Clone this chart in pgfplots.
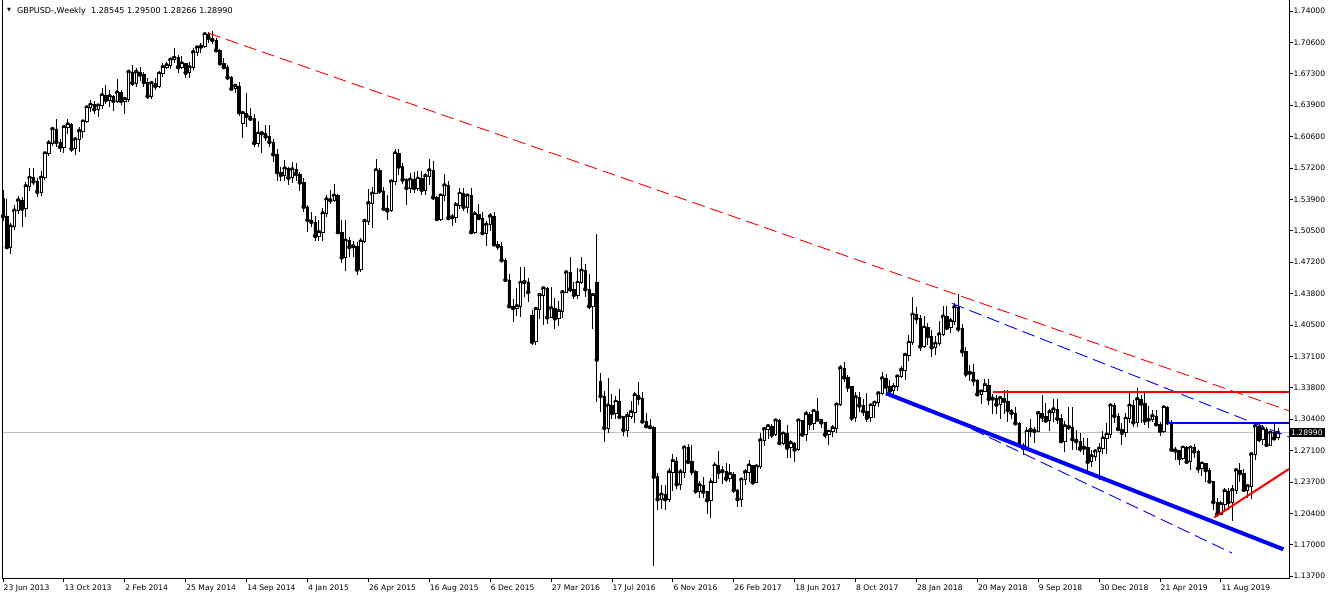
\documentclass[border=0pt]{standalone}
\usepackage{fontspec}
\setmainfont{DejaVu Sans}
\usepackage{pgfplots}
\usepackage{pgfplotstable}
\pgfplotsset{compat=1.18}

% weekly GBPUSD candles, week index from 23 Jun 2013
\pgfplotstableread{
i o h l c
0 1.5400 1.5490 1.5160 1.5210
1 1.5210 1.5390 1.4860 1.4880
2 1.4880 1.5140 1.4810 1.5100
3 1.5100 1.5330 1.5060 1.5270
4 1.5270 1.5430 1.5230 1.5380
5 1.5380 1.5410 1.5090 1.5290
6 1.5290 1.5570 1.5200 1.5530
7 1.5530 1.5720 1.5480 1.5620
8 1.5620 1.5720 1.5540 1.5580
9 1.5580 1.5620 1.5420 1.5470
10 1.5470 1.5690 1.5430 1.5620
11 1.5620 1.5900 1.5600 1.5880
12 1.5880 1.6020 1.5850 1.5990
13 1.5990 1.6160 1.5960 1.6140
14 1.6140 1.6250 1.5950 1.6000
15 1.6000 1.6030 1.5900 1.5950
16 1.5950 1.6180 1.5880 1.6160
17 1.6160 1.6250 1.6090 1.6190
18 1.6190 1.6210 1.5890 1.5930
19 1.5930 1.6060 1.5860 1.6030
20 1.6030 1.6160 1.5900 1.6120
21 1.6120 1.6230 1.6050 1.6220
22 1.6220 1.6390 1.6200 1.6370
23 1.6370 1.6450 1.6320 1.6400
24 1.6400 1.6440 1.6300 1.6350
25 1.6350 1.6410 1.6270 1.6390
26 1.6390 1.6580 1.6350 1.6500
27 1.6500 1.6610 1.6410 1.6450
28 1.6450 1.6560 1.6380 1.6490
29 1.6490 1.6500 1.6330 1.6440
30 1.6440 1.6670 1.6420 1.6530
31 1.6530 1.6560 1.6400 1.6440
32 1.6440 1.6480 1.6300 1.6460
33 1.6460 1.6770 1.6430 1.6750
34 1.6750 1.6820 1.6600 1.6630
35 1.6630 1.6790 1.6590 1.6750
36 1.6750 1.6800 1.6650 1.6720
37 1.6720 1.6750 1.6590 1.6640
38 1.6640 1.6680 1.6460 1.6490
39 1.6490 1.6650 1.6460 1.6630
40 1.6630 1.6680 1.6560 1.6600
41 1.6600 1.6760 1.6580 1.6730
42 1.6730 1.6840 1.6700 1.6800
43 1.6800 1.6860 1.6780 1.6820
44 1.6820 1.6900 1.6780 1.6880
45 1.6880 1.7000 1.6850 1.6900
46 1.6900 1.6930 1.6740 1.6800
47 1.6800 1.6920 1.6780 1.6840
48 1.6840 1.6850 1.6690 1.6740
49 1.6740 1.6860 1.6690 1.6800
50 1.6800 1.7000 1.6770 1.6960
51 1.6960 1.7030 1.6920 1.7010
52 1.7010 1.7060 1.6950 1.7020
53 1.7020 1.7180 1.7000 1.7150
54 1.7150 1.7180 1.7060 1.7110
55 1.7110 1.7190 1.7050 1.7090
56 1.7090 1.7110 1.6960 1.6980
57 1.6980 1.6990 1.6820 1.6840
58 1.6840 1.6900 1.6780 1.6800
59 1.6800 1.6820 1.6660 1.6690
60 1.6690 1.6710 1.6560 1.6570
61 1.6570 1.6620 1.6530 1.6600
62 1.6600 1.6640 1.6280 1.6320
63 1.6200 1.6330 1.6050 1.6310
64 1.6310 1.6530 1.6160 1.6280
65 1.6280 1.6370 1.6230 1.6250
66 1.6250 1.6300 1.5950 1.5990
67 1.5990 1.6230 1.5950 1.6090
68 1.6090 1.6110 1.5880 1.6095
69 1.6095 1.6180 1.6010 1.6060
70 1.6060 1.6180 1.5950 1.6000
71 1.6000 1.6030 1.5790 1.5870
72 1.5870 1.5930 1.5590 1.5680
73 1.5680 1.5740 1.5590 1.5650
74 1.5650 1.5810 1.5590 1.5720
75 1.5720 1.5740 1.5540 1.5620
76 1.5620 1.5790 1.5560 1.5710
77 1.5710 1.5780 1.5590 1.5660
78 1.5660 1.5680 1.5480 1.5570
79 1.5570 1.5620 1.5250 1.5310
80 1.5310 1.5330 1.5040 1.5170
81 1.5170 1.5250 1.5090 1.5150
82 1.5150 1.5210 1.4950 1.5000
83 1.5000 1.5170 1.4950 1.5040
84 1.5040 1.5300 1.4950 1.5240
85 1.5240 1.5440 1.5200 1.5390
86 1.5390 1.5490 1.5340 1.5380
87 1.5380 1.5550 1.5360 1.5430
88 1.5430 1.5450 1.5020 1.5040
89 1.5040 1.5170 1.4710 1.4770
90 1.4770 1.5170 1.4630 1.4950
91 1.4950 1.4990 1.4780 1.4880
92 1.4880 1.4950 1.4770 1.4890
93 1.4890 1.4930 1.4580 1.4640
94 1.4640 1.4980 1.4620 1.4940
95 1.4940 1.5180 1.4920 1.5160
96 1.5160 1.5500 1.5120 1.5350
97 1.5350 1.5520 1.5080 1.5450
98 1.5450 1.5820 1.5450 1.5700
99 1.5700 1.5720 1.5450 1.5480
100 1.5480 1.5520 1.5270 1.5290
101 1.5290 1.5440 1.5170 1.5270
102 1.5270 1.5600 1.5260 1.5580
103 1.5580 1.5930 1.5540 1.5880
104 1.5880 1.5930 1.5650 1.5740
105 1.5740 1.5780 1.5550 1.5600
106 1.5600 1.5620 1.5330 1.5510
107 1.5510 1.5670 1.5460 1.5600
108 1.5600 1.5680 1.5460 1.5510
109 1.5510 1.5690 1.5480 1.5610
110 1.5610 1.5690 1.5440 1.5490
111 1.5490 1.5670 1.5440 1.5640
112 1.5640 1.5820 1.5540 1.5700
113 1.5700 1.5800 1.5380 1.5410
114 1.5410 1.5430 1.5160 1.5180
115 1.5180 1.5450 1.5160 1.5430
116 1.5430 1.5660 1.5370 1.5540
117 1.5540 1.5590 1.5170 1.5190
118 1.5190 1.5230 1.5110 1.5200
119 1.5200 1.5360 1.5140 1.5330
120 1.5330 1.5510 1.5290 1.5450
121 1.5450 1.5510 1.5270 1.5310
122 1.5310 1.5450 1.5240 1.5430
123 1.5430 1.5510 1.5020 1.5040
124 1.5040 1.5270 1.5020 1.5230
125 1.5230 1.5340 1.5170 1.5190
126 1.5190 1.5250 1.5010 1.5030
127 1.5030 1.5160 1.4890 1.5120
128 1.5120 1.5240 1.5050 1.5210
129 1.5210 1.5250 1.4890 1.4910
130 1.4910 1.4950 1.4850 1.4890
131 1.4890 1.4930 1.4720 1.4740
132 1.4740 1.4760 1.4520 1.4530
133 1.4530 1.4590 1.4240 1.4250
134 1.4250 1.4330 1.4080 1.4230
135 1.4230 1.4440 1.4150 1.4250
136 1.4250 1.4670 1.4140 1.4500
137 1.4500 1.4670 1.4350 1.4510
138 1.4510 1.4550 1.4300 1.4400
139 1.4150 1.4210 1.3840 1.3870
140 1.3870 1.4240 1.3840 1.4220
141 1.4220 1.4380 1.4110 1.4370
142 1.4370 1.4460 1.4050 1.4440
143 1.4440 1.4460 1.4060 1.4130
144 1.4130 1.4460 1.4120 1.4230
145 1.4230 1.4340 1.4010 1.4120
146 1.4120 1.4310 1.4040 1.4200
147 1.4200 1.4410 1.4120 1.4400
148 1.4400 1.4640 1.4390 1.4610
149 1.4610 1.4770 1.4400 1.4430
150 1.4430 1.4510 1.4330 1.4370
151 1.4370 1.4660 1.4330 1.4500
152 1.4500 1.4770 1.4490 1.4630
153 1.4630 1.4700 1.4350 1.4430
154 1.4430 1.4590 1.4220 1.4250
155 1.4250 1.4390 1.4010 1.4370
156 1.4500 1.5020 1.3230 1.3680
157 1.3450 1.3540 1.3120 1.3290
158 1.3290 1.3350 1.2800 1.2950
159 1.2950 1.3480 1.2900 1.3190
160 1.3190 1.3310 1.3050 1.3110
161 1.3110 1.3290 1.3050 1.3230
162 1.3230 1.3370 1.3050 1.3070
163 1.3070 1.3080 1.2870 1.2930
164 1.2930 1.3120 1.2860 1.3080
165 1.3080 1.3240 1.3050 1.3120
166 1.3120 1.3340 1.3000 1.3300
167 1.3300 1.3440 1.3200 1.3270
168 1.3270 1.3330 1.3020 1.3020
169 1.3020 1.3110 1.2950 1.2970
170 1.2970 1.3050 1.2950 1.2960
171 1.2960 1.2970 1.1480 1.2430
172 1.2430 1.2470 1.2080 1.2190
173 1.2190 1.2340 1.2090 1.2240
174 1.2240 1.2340 1.2080 1.2190
175 1.2190 1.2520 1.2160 1.2480
176 1.2480 1.2670 1.2280 1.2600
177 1.2600 1.2640 1.2300 1.2350
178 1.2350 1.2510 1.2290 1.2480
179 1.2480 1.2770 1.2420 1.2740
180 1.2740 1.2780 1.2570 1.2590
181 1.2590 1.2770 1.2450 1.2490
182 1.2490 1.2500 1.2250 1.2280
183 1.2280 1.2390 1.2200 1.2340
184 1.2340 1.2430 1.2200 1.2270
185 1.2270 1.2280 1.2030 1.2180
186 1.2180 1.2420 1.1990 1.2370
187 1.2370 1.2590 1.2360 1.2550
188 1.2550 1.2710 1.2410 1.2480
189 1.2480 1.2550 1.2350 1.2490
190 1.2490 1.2580 1.2380 1.2410
191 1.2410 1.2570 1.2380 1.2460
192 1.2460 1.2480 1.2260 1.2290
193 1.2290 1.2300 1.2110 1.2190
194 1.2190 1.2410 1.2110 1.2400
195 1.2400 1.2510 1.2340 1.2480
196 1.2480 1.2610 1.2380 1.2550
197 1.2550 1.2560 1.2360 1.2370
198 1.2370 1.2570 1.2360 1.2540
199 1.2540 1.2900 1.2510 1.2820
200 1.2820 1.2950 1.2760 1.2940
201 1.2940 1.2990 1.2830 1.2970
202 1.2970 1.2990 1.2840 1.2880
203 1.2880 1.3050 1.2870 1.3030
204 1.3030 1.3050 1.2770 1.2790
205 1.2790 1.2910 1.2770 1.2890
206 1.2890 1.2980 1.2630 1.2740
207 1.2740 1.2820 1.2630 1.2790
208 1.2790 1.2800 1.2590 1.2720
209 1.2720 1.3040 1.2710 1.3030
210 1.3030 1.3040 1.2870 1.2880
211 1.2880 1.3130 1.2810 1.3100
212 1.3100 1.3120 1.2930 1.3000
213 1.3000 1.3150 1.2930 1.3130
214 1.3130 1.3270 1.3030 1.3040
215 1.3040 1.3050 1.2950 1.3010
216 1.3010 1.3020 1.2840 1.2880
217 1.2880 1.2930 1.2770 1.2910
218 1.2910 1.2980 1.2850 1.2950
219 1.2950 1.3210 1.2900 1.3200
220 1.3200 1.3620 1.3190 1.3590
221 1.3590 1.3660 1.3440 1.3490
222 1.3490 1.3520 1.3340 1.3390
223 1.3390 1.3400 1.3030 1.3060
224 1.3060 1.3340 1.3020 1.3280
225 1.3280 1.3340 1.3120 1.3190
226 1.3190 1.3260 1.3080 1.3130
227 1.3130 1.3320 1.3020 1.3060
228 1.3060 1.3220 1.3020 1.3190
229 1.3190 1.3240 1.3060 1.3220
230 1.3220 1.3340 1.3170 1.3320
231 1.3320 1.3550 1.3300 1.3480
232 1.3480 1.3530 1.3300 1.3390
233 1.3390 1.3460 1.3300 1.3350
234 1.3350 1.3430 1.3300 1.3390
235 1.3390 1.3510 1.3350 1.3500
236 1.3500 1.3610 1.3480 1.3570
237 1.3570 1.3740 1.3460 1.3730
238 1.3730 1.3940 1.3670 1.3860
239 1.3860 1.4350 1.3840 1.4160
240 1.4160 1.4240 1.4060 1.4120
241 1.4120 1.4160 1.3770 1.3820
242 1.3820 1.4150 1.3800 1.4020
243 1.4020 1.4070 1.3840 1.3930
244 1.3930 1.4000 1.3710 1.3810
245 1.3810 1.3930 1.3730 1.3850
246 1.3850 1.4090 1.3830 1.3950
247 1.3950 1.4250 1.3930 1.4140
248 1.4140 1.4250 1.4000 1.4020
249 1.4020 1.4120 1.3960 1.4090
250 1.4090 1.4280 1.4050 1.4240
251 1.4240 1.4380 1.3970 1.4010
252 1.4010 1.4060 1.3710 1.3770
253 1.3770 1.3820 1.3490 1.3530
254 1.3530 1.3620 1.3450 1.3540
255 1.3540 1.3630 1.3400 1.3460
256 1.3460 1.3470 1.3300 1.3310
257 1.3310 1.3350 1.3210 1.3340
258 1.3340 1.3470 1.3330 1.3410
259 1.3410 1.3470 1.3200 1.3260
260 1.3260 1.3310 1.3100 1.3265
261 1.3265 1.3300 1.3100 1.3200
262 1.3200 1.3290 1.3050 1.3270
263 1.3270 1.3360 1.3100 1.3240
264 1.3240 1.3360 1.3010 1.3140
265 1.3140 1.3150 1.3050 1.3110
266 1.3110 1.3170 1.2990 1.3000
267 1.3000 1.3010 1.2760 1.2770
268 1.2770 1.2790 1.2660 1.2740
269 1.2740 1.2960 1.2730 1.2910
270 1.2910 1.3050 1.2850 1.2930
271 1.2930 1.2960 1.2790 1.2920
272 1.2920 1.3120 1.2910 1.3110
273 1.3110 1.3300 1.3010 1.3070
274 1.3070 1.3220 1.3020 1.3030
275 1.3030 1.3150 1.2920 1.3120
276 1.3120 1.3260 1.3020 1.3150
277 1.3150 1.3260 1.2990 1.3050
278 1.3050 1.3100 1.2790 1.2810
279 1.2810 1.3030 1.2700 1.2970
280 1.2970 1.3180 1.2930 1.2960
281 1.2960 1.3180 1.2720 1.2830
282 1.2830 1.2930 1.2720 1.2810
283 1.2810 1.2900 1.2700 1.2730
284 1.2730 1.2840 1.2660 1.2740
285 1.2740 1.2840 1.2480 1.2590
286 1.2590 1.2720 1.2540 1.2650
287 1.2650 1.2730 1.2600 1.2700
288 1.2700 1.2790 1.2400 1.2730
289 1.2730 1.2920 1.2670 1.2840
290 1.2840 1.3000 1.2670 1.2880
291 1.2880 1.3220 1.2840 1.3190
292 1.3190 1.3220 1.3000 1.3080
293 1.3080 1.3110 1.2920 1.2940
294 1.2940 1.3000 1.2770 1.2900
295 1.2900 1.3110 1.2850 1.3050
296 1.3050 1.3350 1.3000 1.3190
297 1.3190 1.3250 1.2960 1.3010
298 1.3010 1.3380 1.2960 1.3260
299 1.3260 1.3300 1.3000 1.3210
300 1.3210 1.3330 1.2980 1.3030
301 1.3030 1.3190 1.2950 1.3040
302 1.3040 1.3140 1.3020 1.3080
303 1.3080 1.3140 1.2980 1.2990
304 1.2990 1.3020 1.2870 1.2920
305 1.2920 1.3180 1.2900 1.3170
306 1.3170 1.3190 1.2980 1.3010
307 1.3010 1.3040 1.2710 1.2720
308 1.2720 1.2750 1.2610 1.2710
309 1.2710 1.2720 1.2560 1.2630
310 1.2630 1.2760 1.2610 1.2740
311 1.2740 1.2760 1.2580 1.2590
312 1.2590 1.2750 1.2500 1.2740
313 1.2740 1.2780 1.2630 1.2700
314 1.2700 1.2720 1.2470 1.2520
315 1.2520 1.2580 1.2440 1.2570
316 1.2570 1.2580 1.2380 1.2500
317 1.2500 1.2520 1.2370 1.2380
318 1.2380 1.2390 1.2080 1.2160
319 1.2160 1.2200 1.2010 1.2030
320 1.2030 1.2170 1.2020 1.2140
321 1.2140 1.2310 1.2050 1.2280
322 1.2280 1.2310 1.2080 1.2160
323 1.2160 1.2340 1.1960 1.2290
324 1.2290 1.2510 1.2250 1.2500
325 1.2500 1.2580 1.2380 1.2470
326 1.2470 1.2510 1.2270 1.2290
327 1.2290 1.2350 1.2200 1.2330
328 1.2330 1.2680 1.2190 1.2670
329 1.2670 1.3010 1.2610 1.2970
330 1.2970 1.3010 1.2800 1.2830
331 1.2830 1.2980 1.2770 1.2940
332 1.2940 1.2960 1.2760 1.2770
333 1.2770 1.2920 1.2760 1.2900
334 1.2900 1.2990 1.2820 1.2840
335 1.28545 1.29500 1.28266 1.28990
}\weekly

\pgfplotsset{
  mtframe/.style={
    scale only axis,
    width=1287pt, height=579pt,
    at={(2pt,20pt)}, anchor=south west,
    xmin=-0.263, xmax=337.9,
    ymin=1.1340, ymax=1.7517,
  },
  trend/.style={line width=#1, line cap=butt},
}

\begin{document}
\begin{tikzpicture}
\useasboundingbox (0,0) rectangle (1332pt,599pt);

% layer 1: price line and wicks
\begin{axis}[mtframe, hide axis]
  \addplot[color=black!25, line width=0.8pt] coordinates {(-1,1.2899) (340,1.2899)};
  \addplot[only marks, mark=none,
    error bars/.cd, y dir=both, y explicit, error mark=none,
    error bar style={black, line width=0.9pt}]
    table[x=i, y=c,
      y error plus expr=\thisrow{h}-\thisrow{c},
      y error minus expr=\thisrow{c}-\thisrow{l}] {\weekly};
\end{axis}

% layer 2: bodies (white = up week, black = down week)
\begin{axis}[mtframe, hide axis, ybar stacked, bar width=2.4pt]
  \addplot[draw=none, fill=none]
    table[x=i, y expr={min(\thisrow{o},\thisrow{c})}] {\weekly};
  \addplot[fill=white, draw=black, line width=0.7pt]
    table[x=i, y expr={max(\thisrow{c}-\thisrow{o},0)}] {\weekly};
  \addplot[fill=black, draw=black, line width=0.7pt]
    table[x=i, y expr={max(\thisrow{o}-\thisrow{c},0)}] {\weekly};
\end{axis}

% layer 3: trend lines, frame, ticks
\begin{axis}[mtframe, name=main,
  axis x line*=bottom, axis y line*=right,
  axis line style={black, line width=1pt},
  tick align=outside, major tick length=3.5pt,
  tick style={black, line width=0.8pt},
  tick label style={font=\fontsize{7.6}{8}\selectfont, text=black},
  xtick={0,16,...,320},
  xticklabels={23 Jun 2013,13 Oct 2013,2 Feb 2014,25 May 2014,14 Sep 2014,
    4 Jan 2015,26 Apr 2015,16 Aug 2015,6 Dec 2015,27 Mar 2016,17 Jul 2016,
    6 Nov 2016,26 Feb 2017,18 Jun 2017,8 Oct 2017,28 Jan 2018,20 May 2018,
    9 Sep 2018,30 Dec 2018,21 Apr 2019,11 Aug 2019},
  xticklabel style={anchor=north west, inner sep=0pt, xshift=0.5pt, yshift=-2.5pt},
  ytick={1.1370,1.1705,1.2040,1.2375,1.2710,1.3045,1.3380,1.3715,1.4050,1.4385,
    1.4720,1.5055,1.5390,1.5725,1.6060,1.6395,1.6730,1.7065,1.7400},
  yticklabels={1.13700,1.17000,1.20400,1.23700,1.27100,1.30400,1.33800,1.37100,
    1.40500,1.43800,1.47200,1.50500,1.53900,1.57200,1.60600,1.63900,1.67300,
    1.70600,1.74000},
  yticklabel style={anchor=west, inner sep=0pt, xshift=1pt},
  extra y ticks={1.2899},
  extra y tick labels={1.28990},
  extra y tick style={major tick length=0pt,
    yticklabel style={fill=black, text=white, inner xsep=2pt, inner ysep=1.5pt, xshift=-1pt}},
]
  \addplot[red, trend=0.9pt, dash pattern=on 13pt off 6pt] coordinates {(53.9,1.7165) (337.9,1.3135)};
  \addplot[blue, trend=0.9pt, dash pattern=on 13pt off 6pt] coordinates {(249.3,1.4281) (337.9,1.2855)};
  \addplot[blue, trend=0.9pt, dash pattern=on 13pt off 6pt] coordinates {(250.1,1.3026) (322.9,1.1617)};
  \addplot[blue, trend=4pt] coordinates {(232.0,1.3321) (336.4,1.1657)};
  \addplot[red, trend=2pt] coordinates {(260.2,1.3330) (337.9,1.3330)};
  \addplot[blue, trend=2pt] coordinates {(306.2,1.3008) (337.9,1.3008)};
  \addplot[red, trend=2pt] coordinates {(318.3,1.1998) (337.9,1.2514)};
\end{axis}
\draw[black, line width=1pt] (main.south west) -- (main.north west);

% chart header
\node[anchor=center, inner sep=0pt, font=\fontsize{5}{5}\selectfont] at (9pt,588.5pt) {▼};
\node[anchor=base west, inner sep=0pt, font=\fontsize{8.1}{9}\selectfont] at (17pt,585pt)
  {GBPUSD-,Weekly\ \ 1.28545 1.29500 1.28266 1.28990};
\end{tikzpicture}
\end{document}
